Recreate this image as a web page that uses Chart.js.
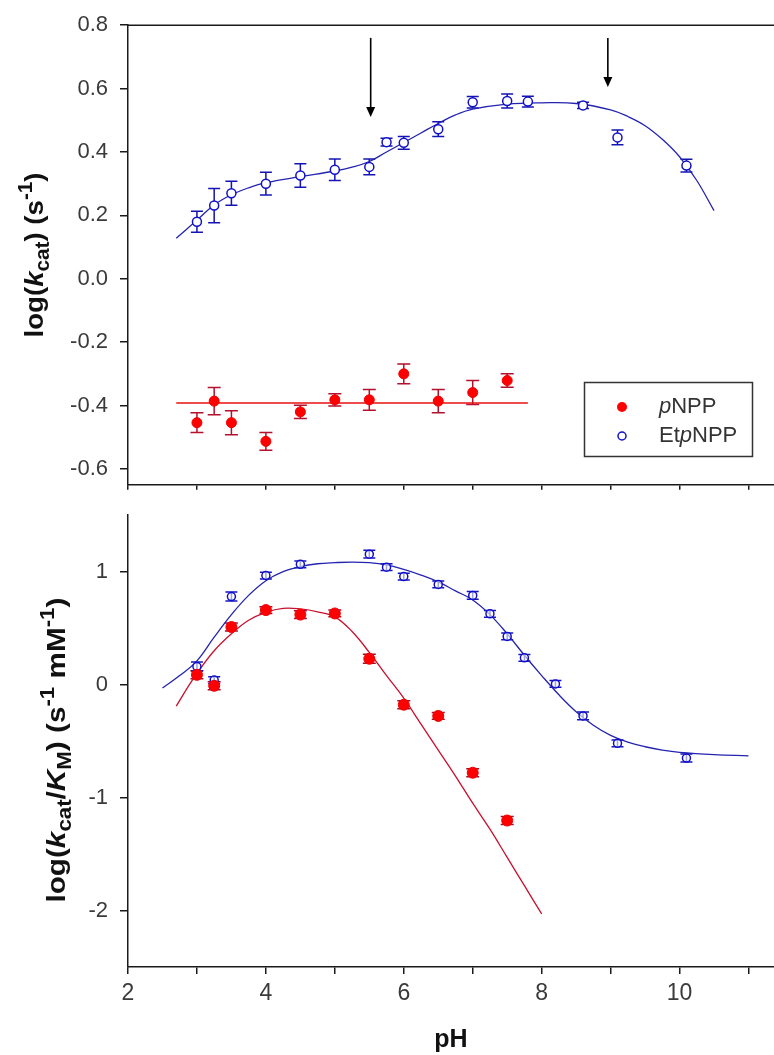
<!DOCTYPE html>
<html>
<head>
<meta charset="utf-8">
<script src="https://cdn.jsdelivr.net/npm/chart.js@4.4.1/dist/chart.umd.min.js"></script>
<style>
body {margin: 0; background: #fff;}
#marco {position: relative; width: 774px; height: 1055px; overflow: hidden;}
canvas {position: absolute; left: 0;}
</style>
</head>
<body>
<div id="marco">
<canvas id="graficoAbajo" width="774" height="565" style="top:490px"></canvas>
<canvas id="graficoArriba" width="774" height="510" style="top:0px"></canvas>
</div>
<script>
// Nombres de las series
const nombres = ["pNPP", "EtpNPP"];

// Panel superior: log(kcat)
const phArribaP = [3.0, 3.25, 3.5, 4.0, 4.5, 5.0, 5.5, 6.0, 6.5, 7.0, 7.5];
const kcatP = [-0.454, -0.386, -0.454, -0.513, -0.42, -0.382, -0.382, -0.30, -0.386, -0.359, -0.321];
const kcatPErr = [0.031, 0.043, 0.038, 0.028, 0.021, 0.019, 0.033, 0.031, 0.037, 0.038, 0.021];

const phArribaE = [3.0, 3.25, 3.5, 4.0, 4.5, 5.0, 5.5, 5.75, 6.0, 6.5, 7.0, 7.5, 7.8, 8.6, 9.1, 10.1];
const kcatE = [0.18, 0.231, 0.27, 0.30, 0.326, 0.344, 0.353, 0.431, 0.429, 0.472, 0.557, 0.561, 0.559, 0.547, 0.446, 0.357];
const kcatEErr = [0.033, 0.054, 0.038, 0.036, 0.037, 0.034, 0.025, 0.012, 0.02, 0.023, 0.018, 0.022, 0.017, 0.01, 0.023, 0.02];

// Curvas de ajuste
const ajusteArribaPX = [2.7, 7.8];
const ajusteArribaPY = [-0.392, -0.392];
const ajusteArribaEX = [2.7, 3.0, 3.25, 3.5, 3.75, 4.0, 4.5, 5.0, 5.25, 5.5, 5.75, 6.0, 6.25, 6.5, 6.75, 7.0, 7.5, 8.0, 8.5, 9.0, 9.25, 9.5, 9.75, 10.0, 10.25, 10.5];
const ajusteArribaEY = [0.128, 0.185, 0.233, 0.265, 0.287, 0.303, 0.322, 0.340, 0.352, 0.37, 0.40, 0.43, 0.46, 0.49, 0.517, 0.535, 0.551, 0.555, 0.553, 0.533, 0.512, 0.483, 0.44, 0.385, 0.31, 0.215];

// Panel inferior: log(kcat/KM)
const phAbajoP = [3.0, 3.25, 3.5, 4.0, 4.5, 5.0, 5.5, 6.0, 6.5, 7.0, 7.5];
const efP = [0.087, -0.01, 0.51, 0.66, 0.62, 0.63, 0.229, -0.178, -0.277, -0.78, -1.203];
const efPErr = [0.035, 0.035, 0.035, 0.03, 0.035, 0.03, 0.04, 0.035, 0.03, 0.035, 0.035];

const phAbajoE = [3.0, 3.25, 3.5, 4.0, 4.5, 5.5, 5.75, 6.0, 6.5, 7.0, 7.25, 7.5, 7.75, 8.2, 8.6, 9.1, 10.1];
const efE = [0.16, 0.04, 0.78, 0.966, 1.065, 1.155, 1.04, 0.957, 0.887, 0.79, 0.627, 0.427, 0.237, 0.006, -0.277, -0.52, -0.65];
const efEErr = [0.04, 0.03, 0.04, 0.03, 0.03, 0.035, 0.03, 0.03, 0.03, 0.035, 0.03, 0.03, 0.03, 0.03, 0.035, 0.03, 0.035];

const ajusteAbajoPX = [2.7, 2.85, 3.0, 3.25, 3.5, 3.75, 4.0, 4.25, 4.5, 4.75, 5.0, 5.25, 5.5, 5.75, 6.0, 6.25, 6.5, 6.75, 7.0, 7.25, 7.5, 7.75, 8.0];
const ajusteAbajoPY = [-0.19, -0.04, 0.10, 0.30, 0.45, 0.57, 0.64, 0.675, 0.67, 0.645, 0.60, 0.47, 0.285, 0.08, -0.12, -0.35, -0.58, -0.81, -1.05, -1.28, -1.53, -1.78, -2.03];
const ajusteAbajoEX = [2.5, 2.75, 3.0, 3.25, 3.5, 3.75, 4.0, 4.25, 4.5, 4.75, 5.0, 5.25, 5.5, 5.75, 6.0, 6.25, 6.5, 6.75, 7.0, 7.25, 7.5, 7.75, 8.0, 8.25, 8.5, 8.75, 9.0, 9.25, 9.5, 9.75, 10.0, 10.5, 11.0];
const ajusteAbajoEY = [-0.03, 0.08, 0.21, 0.42, 0.62, 0.79, 0.92, 1.0, 1.045, 1.07, 1.08, 1.085, 1.08, 1.06, 1.02, 0.97, 0.91, 0.83, 0.75, 0.62, 0.45, 0.26, 0.08, -0.09, -0.24, -0.36, -0.45, -0.51, -0.55, -0.58, -0.60, -0.62, -0.63];

// Flechas del panel superior
const flechasX = [5.52, 8.96];
const flechasDesde = [0.76, 0.76];
const flechasHasta = [0.51, 0.605];

// Marcas de los ejes
const ticksX = [2, 3, 4, 5, 6, 7, 8, 9, 10, 11];
const ticksArriba = [-0.6, -0.4, -0.2, 0.0, 0.2, 0.4, 0.6, 0.8];
const ticksAbajo = [-2, -1, 0, 1];

const FUENTE = '"Liberation Sans", Arial, sans-serif';
Chart.defaults.font.family = FUENTE;
Chart.defaults.color = "#3a3a3a";

function pares(xs, ys) {
    return xs.map((x, i) => ({x: x, y: ys[i]}));
}

// Barras de error
const barrasError = {
    id: "barrasError",
    beforeDatasetsDraw(chart) {
        const {ctx, scales: {x, y}} = chart;
        chart.data.datasets.forEach(ds => {
            if (!ds.errores) {return;}
            ctx.save();
            ctx.strokeStyle = ds.colorBarra;
            ctx.lineWidth = 1.5;
            ds.data.forEach((p, i) => {
                const px = x.getPixelForValue(p.x);
                const y1 = y.getPixelForValue(p.y - ds.errores[i]);
                const y2 = y.getPixelForValue(p.y + ds.errores[i]);
                const w = ds.anchoBarra;
                ctx.beginPath();
                ctx.moveTo(px, y1); ctx.lineTo(px, y2);
                ctx.moveTo(px - w, y1); ctx.lineTo(px + w, y1);
                ctx.moveTo(px - w, y2); ctx.lineTo(px + w, y2);
                ctx.stroke();
            });
            ctx.restore();
        });
    }
};

// Texto con cursiva, subíndices y superíndices
function fuenteDe(s, size, negrita) {
    const tam = (s.sub || s.sup) ? size * 0.75 : size;
    return (s.i ? "italic " : "") + (negrita ? "bold " : "") + tam + "px " + FUENTE;
}

function dibujarRico(ctx, segs, size, negrita) {
    let x = 0;
    segs.forEach(s => {
        ctx.font = fuenteDe(s, size, negrita);
        const dy = s.sub ? size * 0.22 : (s.sup ? -size * 0.42 : 0);
        ctx.fillText(s.t, x, dy);
        x += ctx.measureText(s.t).width;
    });
    return x;
}

function anchoRico(ctx, segs, size, negrita) {
    let total = 0;
    segs.forEach(s => {
        ctx.font = fuenteDe(s, size, negrita);
        total += ctx.measureText(s.t).width;
    });
    return total;
}

// Título del eje Y
const tituloY = {
    id: "tituloY",
    afterDraw(chart, args, opts) {
        const {ctx, chartArea} = chart;
        const size = 26;
        const total = anchoRico(ctx, opts.segs, size, true);
        const k = opts.largo / total;
        ctx.save();
        ctx.fillStyle = "#111";
        ctx.textBaseline = "alphabetic";
        ctx.translate(opts.base, (chartArea.top + chartArea.bottom) / 2 + opts.dy);
        ctx.rotate(-Math.PI / 2);
        ctx.scale(k, 1);
        ctx.translate(-total / 2, 0);
        dibujarRico(ctx, opts.segs, size, true);
        ctx.restore();
    }
};

// Borde superior, flechas y leyenda
const decoradoArriba = {
    id: "decoradoArriba",
    afterDraw(chart) {
        const {ctx, chartArea, scales: {x, y}} = chart;
        ctx.save();
        ctx.strokeStyle = "#1a1a1a";
        ctx.lineWidth = 1.5;
        ctx.beginPath();
        ctx.moveTo(chartArea.left, chartArea.top);
        ctx.lineTo(chartArea.right, chartArea.top);
        ctx.stroke();

        // Flechas
        ctx.fillStyle = "#000";
        ctx.strokeStyle = "#000";
        flechasX.forEach((fx, i) => {
            const px = x.getPixelForValue(fx);
            const y1 = y.getPixelForValue(flechasDesde[i]);
            const y2 = y.getPixelForValue(flechasHasta[i]);
            ctx.lineWidth = 1.6;
            ctx.beginPath();
            ctx.moveTo(px, y1);
            ctx.lineTo(px, y2 - 8);
            ctx.stroke();
            ctx.beginPath();
            ctx.moveTo(px - 4.5, y2 - 10);
            ctx.lineTo(px + 4.5, y2 - 10);
            ctx.lineTo(px, y2);
            ctx.closePath();
            ctx.fill();
        });

        // Leyenda
        ctx.lineWidth = 1.5;
        ctx.strokeStyle = "#333";
        ctx.strokeRect(584.5, 382.5, 168, 74);
        const filas = [407, 436];
        chart.data.datasets.slice(0, 2).forEach((ds, i) => {
            ctx.beginPath();
            ctx.arc(622, filas[i], i === 0 ? 5 : 4, 0, Math.PI * 2);
            if (i === 0) {
                ctx.fillStyle = ds.pointBackgroundColor;
                ctx.fill();
            } else {
                ctx.strokeStyle = ds.pointBorderColor;
                ctx.stroke();
            }
            const segs = [];
            ds.label.split(/(p)/).forEach(t => {
                if (t) {segs.push({t: t, i: t === "p"});}
            });
            ctx.save();
            ctx.fillStyle = "#333";
            ctx.textBaseline = "middle";
            ctx.translate(659, filas[i]);
            dibujarRico(ctx, segs, 22, false);
            ctx.restore();
        });
        ctx.restore();
    }
};

const ejeComun = {
    grid: {display: true, drawOnChartArea: false, color: "#1a1a1a", lineWidth: 1.5},
    border: {display: true, color: "#1a1a1a", width: 1.5}
};

new Chart(document.getElementById("graficoArriba"), {
    type: "scatter",
    data: {
        datasets: [
            {label: nombres[0], data: pares(phArribaP, kcatP), errores: kcatPErr, colorBarra: "#b5102c", anchoBarra: 6.5,
                pointRadius: 5, pointBackgroundColor: "#ff0000", pointBorderColor: "#ee0000", pointBorderWidth: 1},
            {label: nombres[1], data: pares(phArribaE, kcatE), errores: kcatEErr, colorBarra: "#1414b4", anchoBarra: 6,
                pointRadius: 4.5, pointBackgroundColor: "#ffffff", pointBorderColor: "#1010c8", pointBorderWidth: 1.5},
            {label: "ajuste pNPP", data: pares(ajusteArribaPX, ajusteArribaPY), showLine: true, pointRadius: 0,
                borderColor: "#e81010", borderWidth: 1.4},
            {label: "ajuste EtpNPP", data: pares(ajusteArribaEX, ajusteArribaEY), showLine: true, pointRadius: 0,
                borderColor: "#2424b0", borderWidth: 1.3, tension: 0.4}
        ]
    },
    options: {
        responsive: false,
        animation: false,
        devicePixelRatio: 1,
        layout: {autoPadding: false, padding: {top: 25, right: 0, bottom: 0, left: 0}},
        plugins: {
            legend: {display: false},
            tooltip: {enabled: false},
            tituloY: {
                base: 43, largo: 165, dy: 0,
                segs: [{t: "log("}, {t: "k", i: true}, {t: "cat", sub: true}, {t: ") (s"}, {t: "-1", sup: true}, {t: ")"}]
            }
        },
        scales: {
            x: {
                ...ejeComun,
                type: "linear", min: 2, max: 11.37,
                grid: {...ejeComun.grid, tickLength: 5},
                ticks: {display: false},
                afterBuildTicks: s => {s.ticks = ticksX.map(v => ({value: v}));},
                afterFit: s => {s.height = 14;}
            },
            y: {
                ...ejeComun,
                min: -0.65, max: 0.8,
                grid: {...ejeComun.grid, tickLength: 8},
                ticks: {font: {size: 22}, color: "#3a3a3a", padding: 12, callback: v => v.toFixed(1)},
                afterBuildTicks: s => {s.ticks = ticksArriba.map(v => ({value: v}));},
                afterFit: s => {s.width = 128;}
            }
        }
    },
    plugins: [barrasError, tituloY, decoradoArriba]
});

new Chart(document.getElementById("graficoAbajo"), {
    type: "scatter",
    data: {
        datasets: [
            {label: nombres[0], data: pares(phAbajoP, efP), errores: efPErr, colorBarra: "#a01030", anchoBarra: 6.5,
                pointRadius: 5.5, pointBackgroundColor: "#ff0000", pointBorderColor: "#ee0000", pointBorderWidth: 1},
            {label: nombres[1], data: pares(phAbajoE, efE), errores: efEErr, colorBarra: "#1414c0", anchoBarra: 6,
                pointRadius: 4, pointBackgroundColor: "rgba(255,255,255,0.6)", pointBorderColor: "#1010c8", pointBorderWidth: 1.5},
            {label: "ajuste pNPP", data: pares(ajusteAbajoPX, ajusteAbajoPY), showLine: true, pointRadius: 0,
                borderColor: "#c8102e", borderWidth: 1.3, tension: 0.4},
            {label: "ajuste EtpNPP", data: pares(ajusteAbajoEX, ajusteAbajoEY), showLine: true, pointRadius: 0,
                borderColor: "#2424b0", borderWidth: 1.3, tension: 0.4}
        ]
    },
    options: {
        responsive: false,
        animation: false,
        devicePixelRatio: 1,
        layout: {autoPadding: false, padding: {top: 6, right: 0, bottom: 0, left: 0}},
        plugins: {
            legend: {display: false},
            tooltip: {enabled: false},
            tituloY: {
                base: 65, largo: 305, dy: 9,
                segs: [{t: "log("}, {t: "k", i: true}, {t: "cat", sub: true}, {t: "/"}, {t: "K", i: true}, {t: "M", sub: true},
                    {t: ") (s"}, {t: "-1", sup: true}, {t: " mM"}, {t: "-1", sup: true}, {t: ")"}]
            }
        },
        scales: {
            x: {
                ...ejeComun,
                type: "linear", min: 2, max: 11.37,
                grid: {...ejeComun.grid, tickLength: 7},
                ticks: {font: {size: 23}, color: "#3a3a3a", padding: 6, maxRotation: 0,
                    callback: v => (v % 2 === 0 ? String(v) : "")},
                title: {display: true, text: "pH", color: "#111", font: {size: 25, weight: "bold"}, padding: {top: 0, bottom: 0}},
                afterBuildTicks: s => {s.ticks = ticksX.map(v => ({value: v}));},
                afterFit: s => {s.height = 88;}
            },
            y: {
                ...ejeComun,
                min: -2.5, max: 1.5,
                grid: {...ejeComun.grid, tickLength: 8},
                ticks: {font: {size: 22}, color: "#3a3a3a", padding: 12, callback: v => String(v)},
                afterBuildTicks: s => {s.ticks = ticksAbajo.map(v => ({value: v}));},
                afterFit: s => {s.width = 128;}
            }
        }
    },
    plugins: [barrasError, tituloY]
});
</script>
</body>
</html>
